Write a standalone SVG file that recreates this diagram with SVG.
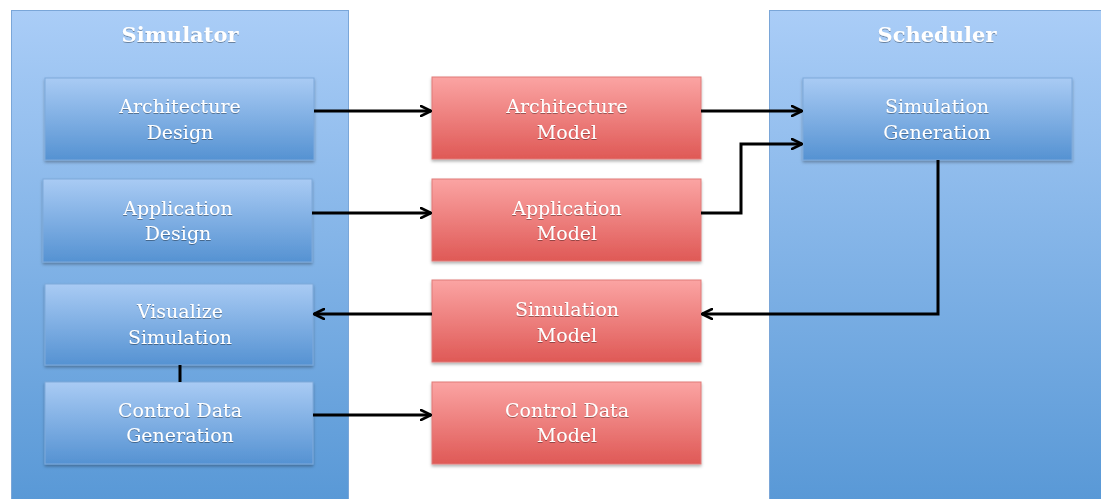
<svg xmlns="http://www.w3.org/2000/svg" width="1101" height="499" viewBox="0 0 1101 499">
  <defs>
    <linearGradient id="gContainer" x1="0" y1="0" x2="0" y2="1">
      <stop offset="0" stop-color="#aacdf7"/>
      <stop offset="1" stop-color="#5898d6"/>
    </linearGradient>
    <linearGradient id="gBlue" x1="0" y1="0" x2="0" y2="1">
      <stop offset="0" stop-color="#a9cbf4"/>
      <stop offset="1" stop-color="#5592d2"/>
    </linearGradient>
    <linearGradient id="gRed" x1="0" y1="0" x2="0" y2="1">
      <stop offset="0" stop-color="#fba4a3"/>
      <stop offset="1" stop-color="#df5956"/>
    </linearGradient>
    <filter id="shadow" x="-10%" y="-10%" width="120%" height="130%">
      <feDropShadow dx="0" dy="2" stdDeviation="1.5" flood-color="#000" flood-opacity="0.3"/>
    </filter>
    <filter id="tshadow" x="-10%" y="-20%" width="120%" height="150%">
      <feDropShadow dx="0" dy="1" stdDeviation="0.6" flood-color="#000" flood-opacity="0.35"/>
    </filter>
    <marker id="arrow" viewBox="0 0 12 12" refX="11" refY="6" markerWidth="12" markerHeight="12" markerUnits="userSpaceOnUse" orient="auto">
      <path d="M1,1 L11,6 L1,11" fill="none" stroke="#000" stroke-width="2.6" stroke-linecap="round" stroke-linejoin="round"/>
    </marker>
    <style>
      .container { fill: url(#gContainer); stroke: #7aa6d8; stroke-width: 1; }
      .blue { fill: url(#gBlue); stroke: #7ea9da; stroke-width: 1; filter: url(#shadow); }
      .red { fill: url(#gRed); stroke: #e07b79; stroke-width: 1; filter: url(#shadow); }
      .title { font-family: "DejaVu Serif", "Liberation Serif", serif; font-weight: bold; font-size: 21px; fill: #fff; text-anchor: middle; filter: url(#tshadow); }
      .label { font-family: "DejaVu Serif", "Liberation Serif", serif; font-size: 19px; fill: #fff; text-anchor: middle; filter: url(#tshadow); }
      .conn { fill: none; stroke: #000; stroke-width: 3; }
    </style>
  </defs>

  <rect width="1101" height="499" fill="#fff"/>

  <!-- containers -->
  <g id="simulator">
    <rect class="container" x="11.5" y="10.5" width="337" height="495"/>
    <text class="title" x="180" y="42">Simulator</text>
  </g>
  <g id="scheduler">
    <rect class="container" x="769.5" y="10.5" width="340" height="495"/>
    <text class="title" x="937" y="42">Scheduler</text>
  </g>

  <!-- simulator nodes -->
  <g id="architecture-design">
    <rect class="blue" x="45" y="78" width="269" height="82"/>
    <text class="label" x="180" y="113">Architecture</text>
    <text class="label" x="180" y="139">Design</text>
  </g>
  <g id="application-design">
    <rect class="blue" x="43" y="179" width="269" height="83"/>
    <text class="label" x="178" y="215">Application</text>
    <text class="label" x="178" y="240">Design</text>
  </g>
  <g id="visualize-simulation">
    <rect class="blue" x="45" y="284" width="268" height="81"/>
    <text class="label" x="180" y="318">Visualize</text>
    <text class="label" x="180" y="344">Simulation</text>
  </g>
  <g id="control-data-generation">
    <rect class="blue" x="45" y="382" width="268" height="82"/>
    <text class="label" x="180" y="417">Control Data</text>
    <text class="label" x="180" y="442">Generation</text>
  </g>

  <!-- model nodes -->
  <g id="architecture-model">
    <rect class="red" x="432" y="77" width="269" height="82"/>
    <text class="label" x="567" y="113">Architecture</text>
    <text class="label" x="567" y="139">Model</text>
  </g>
  <g id="application-model">
    <rect class="red" x="432" y="179" width="269" height="82"/>
    <text class="label" x="567" y="215">Application</text>
    <text class="label" x="567" y="240">Model</text>
  </g>
  <g id="simulation-model">
    <rect class="red" x="432" y="280" width="269" height="82"/>
    <text class="label" x="567" y="316">Simulation</text>
    <text class="label" x="567" y="342">Model</text>
  </g>
  <g id="control-data-model">
    <rect class="red" x="432" y="382" width="269" height="82"/>
    <text class="label" x="567" y="417">Control Data</text>
    <text class="label" x="567" y="442">Model</text>
  </g>

  <!-- scheduler node -->
  <g id="simulation-generation">
    <rect class="blue" x="803" y="78" width="269" height="82"/>
    <text class="label" x="937" y="113">Simulation</text>
    <text class="label" x="937" y="139">Generation</text>
  </g>

  <!-- connectors -->
  <g id="connectors">
    <path class="conn" d="M314,111 H431" marker-end="url(#arrow)"/>
    <path class="conn" d="M312,213 H431" marker-end="url(#arrow)"/>
    <path class="conn" d="M313,415 H431" marker-end="url(#arrow)"/>
    <path class="conn" d="M701,111 H802" marker-end="url(#arrow)"/>
    <path class="conn" d="M701,213 H741 V144 H802" marker-end="url(#arrow)"/>
    <path class="conn" d="M938,160 V314 H702" marker-end="url(#arrow)"/>
    <path class="conn" d="M432,314 H314" marker-end="url(#arrow)"/>
    <path class="conn" d="M180,365 V382"/>
  </g>
</svg>
